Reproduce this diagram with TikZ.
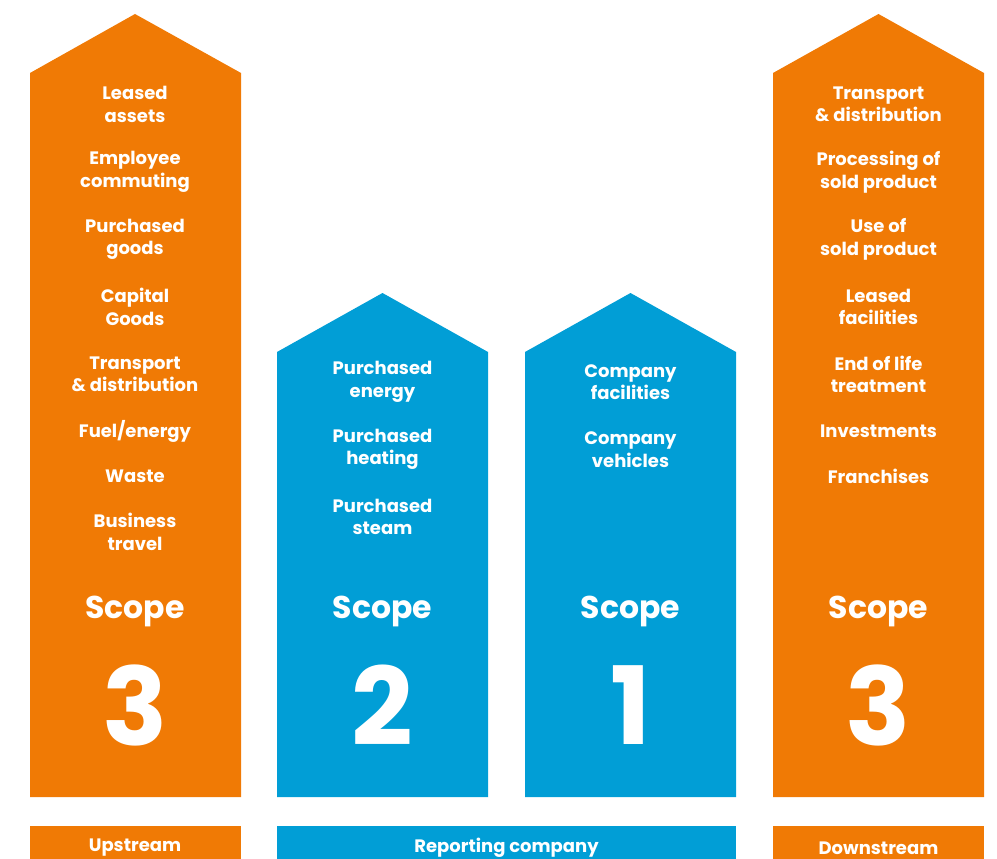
\documentclass[tikz,border=0pt]{standalone}
\usepackage{fontspec}
\setmainfont{Poppins}
\definecolor{sorange}{HTML}{F07A05}
\definecolor{sblue}{HTML}{019ED6}
\begin{document}
\begin{tikzpicture}[x=1pt,y=-1pt,
  item/.style={text=white,font=\fontsize{18}{22.5}\selectfont\bfseries,align=center,inner sep=0pt},
  scopelbl/.style={text=white,font=\fontsize{31.5}{38}\selectfont\bfseries,inner sep=0pt},
  scopenum/.style={text=white,font=\fontsize{108}{110}\selectfont\bfseries,inner sep=0pt},
  foot/.style={text=white,font=\fontsize{18}{20}\selectfont\bfseries,inner sep=0pt}]
\useasboundingbox (0,0) rectangle (997,859);
% columns
\fill[sorange] (30,73) -- (135,14) -- (241,73) -- (241,797) -- (30,797) -- cycle;
\fill[sblue] (277,352) -- (382.5,293) -- (488,352) -- (488,797) -- (277,797) -- cycle;
\fill[sblue] (525,352) -- (630.5,293) -- (736,352) -- (736,797) -- (525,797) -- cycle;
\fill[sorange] (773,73) -- (878.5,14) -- (984,73) -- (984,797) -- (773,797) -- cycle;
% footer boxes
\fill[sorange] (30,826) rectangle (241,870);
\fill[sblue] (277,826) rectangle (736,870);
\fill[sorange] (773,826) rectangle (984,870);
% column 1
\node[item] (a1) at (135,104.5) {Leased\\assets};
\node[item] (a2) at (135,172) {Employee\\commuting};
\node[item] (a3) at (135,239.5) {Purchased\\goods};
\node[item] (a4) at (135,307) {Capital\\Goods};
\node[item] (a5) at (135,374.5) {Transport\\\& distribution};
\node[item] (a6) at (135,431) {Fuel/energy};
\node[item] (a7) at (135,476) {Waste};
\node[item] (a8) at (135,532) {Business\\travel};
\node[scopelbl] (as) at (135,611) {Scope};
\node[scopenum] (an) at (135,705) {3};
% column 2
\node[item] (b1) at (382.5,382) {Purchased\\energy};
\node[item] (b2) at (382.5,449.5) {Purchased\\heating};
\node[item] (b3) at (382.5,517) {Purchased\\steam};
\node[scopelbl] (bs) at (382.5,611) {Scope};
\node[scopenum] (bn) at (382.5,705) {2};
% column 3
\node[item] (c1) at (630.5,382) {Company\\facilities};
\node[item] (c2) at (630.5,449.5) {Company\\vehicles};
\node[scopelbl] (cs) at (630.5,611) {Scope};
\node[scopenum] (cn) at (630.5,705) {1};
% column 4
\node[item] (d1) at (878.5,104.5) {Transport\\\& distribution};
\node[item] (d2) at (878.5,172) {Processing of\\sold product};
\node[item] (d3) at (878.5,239.5) {Use of\\sold product};
\node[item] (d4) at (878.5,307) {Leased\\facilities};
\node[item] (d5) at (878.5,374.5) {End of life\\treatment};
\node[item] (d6) at (878.5,431) {Investments};
\node[item] (d7) at (878.5,476) {Franchises};
\node[scopelbl] (ds) at (878.5,611) {Scope};
\node[scopenum] (dn) at (878.5,705) {3};
% footer labels
\node[foot] (f1) at (135,848) {Upstream};
\node[foot] (f2) at (506.5,848) {Reporting company};
\node[foot] (f3) at (878.5,848) {Downstream};
\end{tikzpicture}
\end{document}
